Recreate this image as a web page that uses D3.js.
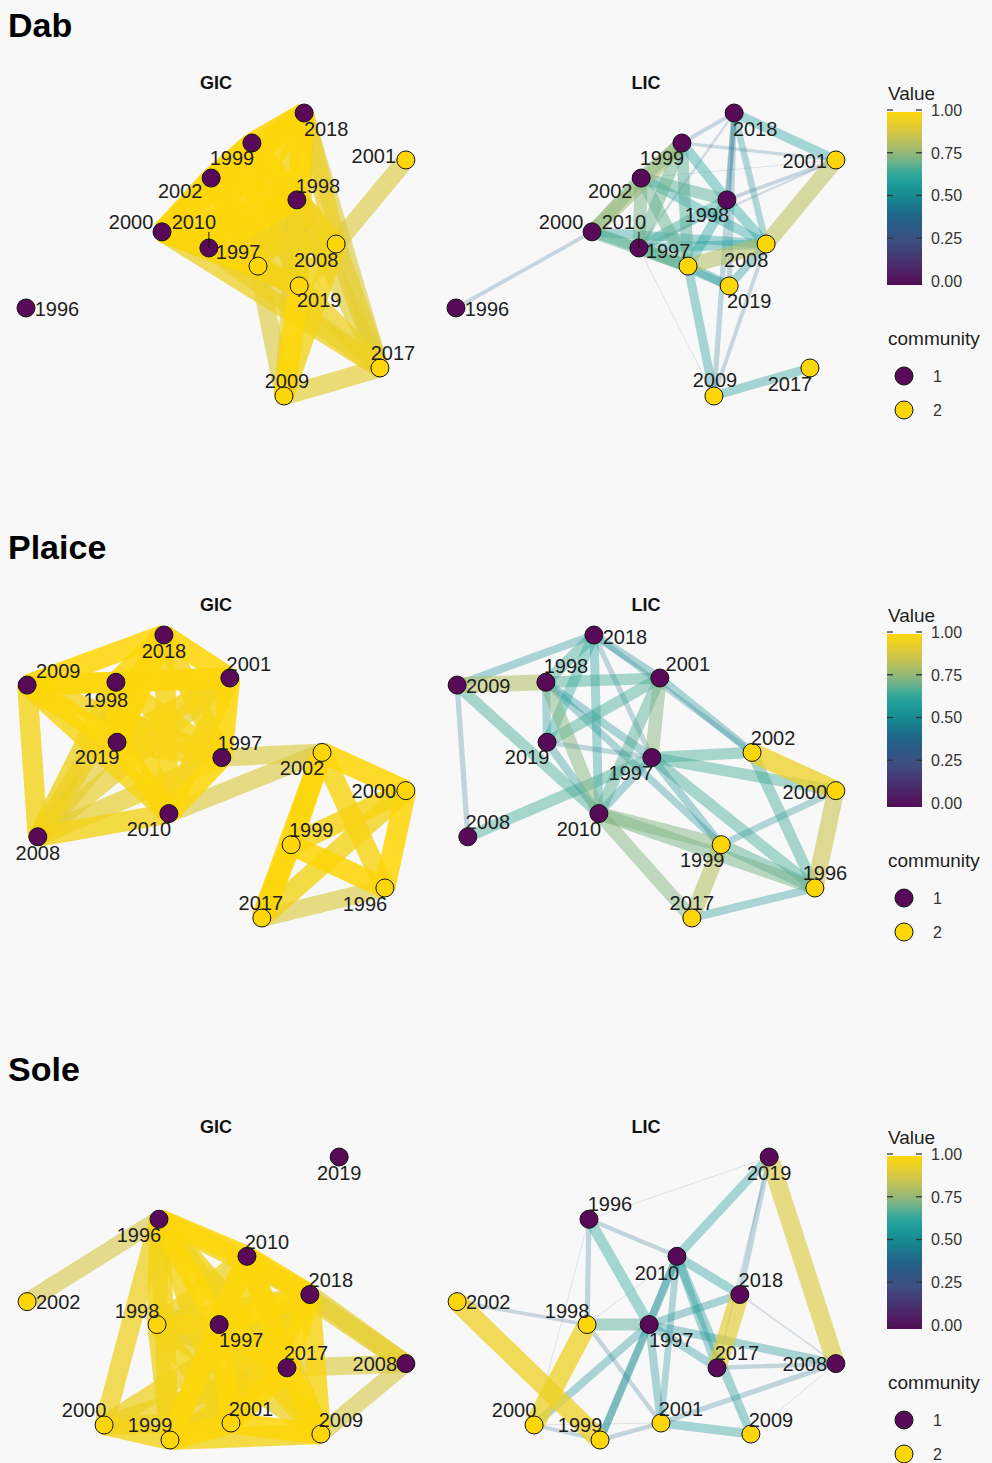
<!DOCTYPE html>
<html>
<head>
<meta charset="utf-8">
<script src="https://cdn.jsdelivr.net/npm/d3@7"></script>
<style>
  html, body { margin: 0; padding: 0; background: #f8f8f8; }
  svg { display: block; }
  text { font-family: "Liberation Sans", Arial, Helvetica, sans-serif; }
</style>
</head>
<body>
<svg id="chart" width="992" height="1463"></svg>
<script>
// ---- data ---------------------------------------------------------------
const speciesNames = ["Dab", "Plaice", "Sole"];
const panelNames = ["GIC", "LIC"];
const years = ["1996", "1997", "1998", "1999", "2000", "2001", "2002", "2008", "2009", "2010", "2017", "2018", "2019"];
const valueTicks = [0, 0.25, 0.5, 0.75, 1];
const communities = ["1", "2"];

// network layout coordinates (0-100) and community membership, in the order of `years`
const dabX = [0, 60.9, 71.1, 59.3, 35.7, 99.7, 48.6, 81.4, 67.7, 48.0, 92.9, 73.0, 71.7];
const dabY = [68.9, 54.1, 30.7, 10.6, 42.0, 16.6, 23.0, 46.3, 100, 47.7, 90.1, 0, 61.1];
const dabCommunity = ["1", "2", "1", "1", "1", "2", "1", "2", "2", "1", "2", "1", "2"];

const plaiceX = [94.2, 51.4, 23.6, 69.6, 99.7, 53.5, 77.7, 3.1, 0.3, 37.5, 61.9, 36.2, 23.9];
const plaiceY = [89.4, 43.3, 16.7, 74.1, 55.0, 15.2, 41.5, 71.3, 17.7, 63.1, 100, 0, 37.9];
const plaiceCommunity = ["2", "1", "1", "2", "2", "1", "2", "1", "1", "1", "2", "1", "1"];

const soleX = [34.9, 50.7, 34.4, 37.8, 20.5, 53.8, 0.3, 99.7, 77.4, 58.0, 68.5, 74.5, 82.2];
const soleY = [22.0, 59.2, 59.2, 100, 94.7, 94.0, 51.1, 73.0, 97.9, 35.1, 74.5, 48.6, 0];
const soleCommunity = ["1", "1", "2", "2", "2", "2", "2", "1", "2", "1", "1", "1", "1"];

// edges: [from, to, value]
const dabGIC = [
  ["2018","1999",1],["2018","2002",1],["2018","1998",1],["2018","2000",1],["2018","2010",1],
  ["1999","2002",1],["1999","1998",1],["1999","2000",1],["1999","2010",1],
  ["2002","1998",1],["2002","2000",1],["2002","2010",1],["1998","2000",1],["1998","2010",1],["2000","2010",1],
  ["1997","2018",0.97],["1997","1999",0.97],["1997","2002",0.98],["1997","2000",0.98],["1997","2010",1],["1997","1998",0.96],
  ["2019","2018",0.96],["2019","1999",0.95],["2019","2000",0.97],["2019","2010",0.97],["2019","1998",0.96],["2019","1997",0.97],["2019","2002",0.95],
  ["2008","2018",0.95],["2008","1998",0.97],["2008","2010",0.95],["2008","2000",0.96],["2008","2019",0.97],["2008","1999",0.94],
  ["2017","2018",0.9],["2017","2000",0.95],["2017","2010",0.93],["2017","1998",0.92],["2017","2019",0.95],["2017","2008",0.93],
  ["2009","1997",0.9],["2009","2019",1],["2009","2008",0.97],["2009","2017",0.92],["2009","1998",0.92],
  ["2001","2008",0.9]
];
const dabLIC = [
  ["2001","2008",0.83],["1997","2008",0.82],["2018","2001",0.6],["1999","1998",0.62],["1998","2008",0.62],
  ["2000","2010",0.6],["2000","1997",0.7],["2000","1999",0.78],["2000","2002",0.72],["1999","2002",0.72],
  ["1999","2010",0.7],["1999","1997",0.68],["2002","2010",0.72],["2002","1997",0.7],["2002","1998",0.68],
  ["1998","2010",0.65],["1998","1997",0.62],["2010","1997",0.7],["2010","2008",0.6],["2002","2008",0.6],
  ["2000","2008",0.58],["1997","2019",0.6],["1997","2009",0.58],["2019","2008",0.56],["2018","2009",0.45],
  ["2018","2019",0.45],["2018","2008",0.5],["2018","1998",0.45],["2018","1999",0.4],["2018","2010",0.35],
  ["2009","2017",0.58],["1996","2000",0.4],["2010","2009",0.3],["2008","2009",0.4],["1998","2001",0.4],
  ["2010","2001",0.35],["1999","2001",0.38],["2002","2001",0.3],["2010","2019",0.55]
];

const plaiceGIC = [
  ["2018","2009",1],["2018","1998",1],["2018","2001",1],["2018","2019",1],["2018","1997",0.98],["2018","2010",0.98],["2018","2008",0.95],
  ["2009","1998",1],["2009","2001",0.97],["2009","2019",1],["2009","1997",0.97],["2009","2010",0.98],["2009","2008",0.97],
  ["1998","2001",1],["1998","2019",1],["1998","1997",0.98],["1998","2010",0.98],["1998","2008",0.96],
  ["2001","2019",0.98],["2001","1997",1],["2001","2010",0.98],["2001","2008",0.93],
  ["2019","1997",0.98],["2019","2010",1],["2019","2008",0.92],["1997","2010",1],["1997","2008",0.93],["2010","2008",0.97],
  ["2002","2000",1],["2002","1999",1],["2002","1996",0.98],["2002","2017",1],["2000","1999",0.98],
  ["2000","1996",1],["2000","2017",0.97],["1999","1996",1],["1999","2017",1],["1996","2017",0.9],
  ["1997","2002",0.9],["2010","2002",0.9]
];
const plaiceLIC = [
  ["2009","1998",0.82],["2002","2000",0.95],["2000","1996",0.86],["1999","2017",0.82],["2010","2017",0.74],
  ["2010","1999",0.74],["2010","1996",0.72],["1997","2002",0.66],["1997","2000",0.66],["1997","1996",0.66],
  ["1997","1999",0.55],["2001","2002",0.55],["2018","2001",0.55],["2001","1997",0.74],["2001","2010",0.68],
  ["2001","2019",0.66],["2001","1998",0.66],["2008","1997",0.66],["2009","2010",0.66],["2009","2018",0.55],
  ["2009","2008",0.45],["1998","2010",0.74],["1998","2019",0.55],["1998","1997",0.55],["1998","2018",0.66],
  ["2018","2010",0.58],["2018","2019",0.64],["2019","2010",0.55],["2010","1997",0.55],["1999","2000",0.5],
  ["2017","1996",0.55],["2002","1996",0.66],["1999","1996",0.68],["1998","1999",0.52],["2018","2002",0.45],
  ["2019","1997",0.45],["2018","1997",0.45]
];

const soleGIC = [
  ["1996","2010",1],["1996","2018",0.98],["1996","1998",0.97],["1996","1997",1],["1996","2017",0.97],["1996","2000",0.95],["1996","1999",0.97],["1996","2001",0.97],["1996","2009",0.95],
  ["2010","2018",1],["2010","1998",0.95],["2010","1997",1],["2010","2017",1],["2010","1999",0.97],["2010","2001",0.98],["2010","2009",0.97],
  ["2018","1998",0.95],["2018","1997",1],["2018","2017",1],["2018","1999",0.95],["2018","2001",0.98],["2018","2009",0.98],["2018","2000",0.95],
  ["1998","1997",0.98],["1998","2017",0.95],["1998","1999",0.95],["1998","2001",0.97],["1998","2009",0.95],
  ["1997","2017",1],["1997","1999",1],["1997","2001",1],["1997","2009",0.98],
  ["2017","2000",0.95],["2017","1999",0.97],["2017","2001",1],["2017","2009",1],
  ["2000","1999",0.97],["2000","2001",0.95],["1999","2001",1],["1999","2009",0.97],["2001","2009",1],
  ["2008","2018",0.93],["2008","2017",0.9],["2008","2009",0.88],["2008","2010",0.93],
  ["1996","2002",0.88]
];
const soleLIC = [
  ["2019","2008",0.9],["2018","2017",0.92],["2002","1999",0.95],["1998","2000",0.95],["1998","1997",0.68],
  ["1996","1997",0.64],["2010","2019",0.58],["2010","2018",0.58],["2010","2009",0.58],["2010","2017",0.56],
  ["1997","2008",0.56],["1997","2018",0.54],["1997","2017",0.55],["1997","2001",0.55],["1997","1999",0.53],
  ["1997","2000",0.55],["2010","1999",0.52],["2010","2001",0.5],["2001","2009",0.58],["2001","2008",0.45],
  ["2017","2008",0.42],["1996","2010",0.42],["1996","1998",0.45],["2002","1998",0.4],["2000","1999",0.4],
  ["1999","2001",0.42],["1996","2019",0.3],["2019","2018",0.45],["2018","2008",0.33],["2009","2008",0.3],
  ["1998","2001",0.42],["2010","1997",0.55],["2017","2009",0.3],["1998","2010",0.3],["2000","2001",0.3],
  ["1996","2000",0.28],["2019","2017",0.33]
];

// ---- assemble ------------------------------------------------------------
function buildNodes(xs, ys, comm) {
  return years.map((yr, i) => ({ year: yr, x: xs[i], y: ys[i], community: comm[i] }));
}
const species = [
  { name: speciesNames[0], nodes: buildNodes(dabX, dabY, dabCommunity), edges: [dabGIC, dabLIC] },
  { name: speciesNames[1], nodes: buildNodes(plaiceX, plaiceY, plaiceCommunity), edges: [plaiceGIC, plaiceLIC] },
  { name: speciesNames[2], nodes: buildNodes(soleX, soleY, soleCommunity), edges: [soleGIC, soleLIC] }
];

// repelled label offsets (px) for each species / panel
const labelNudge = [
  [
    {"1996":[31,1],"1997":[-20,-14],"1998":[21,-14],"1999":[-20,15],"2000":[-31,-10],"2001":[-32,-4],"2002":[-31,13],"2008":[-20,16],"2009":[3,-15],"2010":[-15,-26],"2017":[13,-15],"2018":[22,16],"2019":[20,14]},
    {"1996":[31,1],"1997":[-20,-15],"1998":[-20,15],"1999":[-20,15],"2000":[-31,-10],"2001":[-31,1],"2002":[-31,13],"2008":[-20,16],"2009":[1,-16],"2010":[-15,-26],"2017":[-20,16],"2018":[21,16],"2019":[20,15]}
  ],
  [
    {"1996":[-20,16],"1997":[18,-15],"1998":[-10,18],"1999":[20,-15],"2000":[-32,0],"2001":[19,-14],"2002":[-20,15],"2008":[0,16],"2009":[31,-14],"2010":[-20,15],"2017":[-1,-15],"2018":[0,16],"2019":[-20,15]},
    {"1996":[10,-15],"1997":[-21,15],"1998":[20,-16],"1999":[-19,15],"2000":[-31,1],"2001":[28,-14],"2002":[21,-15],"2008":[20,-15],"2009":[31,1],"2010":[-20,15],"2017":[0,-15],"2018":[31,2],"2019":[-20,15]}
  ],
  [
    {"1996":[-20,16],"1997":[22,15],"1998":[-20,-14],"1999":[-20,-15],"2000":[-20,-15],"2001":[20,-14],"2002":[31,0],"2008":[-31,0],"2009":[20,-14],"2010":[20,-15],"2017":[19,-15],"2018":[21,-15],"2019":[0,16]},
    {"1996":[21,-15],"1997":[22,15],"1998":[-20,-14],"1999":[-20,-15],"2000":[-20,-15],"2001":[20,-14],"2002":[31,0],"2008":[-31,0],"2009":[20,-14],"2010":[-20,16],"2017":[20,-15],"2018":[21,-15],"2019":[0,16]}
  ]
];

// ---- scales ----------------------------------------------------------------
const colorScale = d3.scaleLinear()
  .domain([0, 0.125, 0.25, 0.375, 0.5, 0.625, 0.75, 0.875, 1])
  .range(["#560b57", "#4a2e6f", "#3d4f80", "#245f88", "#168690", "#22a6a0", "#8cb67e", "#d4c648", "#fdd60a"])
  .interpolate(d3.interpolateRgb)
  .clamp(true);
const widthScale = d3.scaleLinear().domain([0.3, 1]).range([1, 21]).clamp(true);
const alphaScale = d3.scaleLinear().domain([0.25, 0.6, 0.9, 1]).range([0.1, 0.4, 0.62, 0.88]).clamp(true);
const communityColor = d3.scaleOrdinal().domain(communities).range(["#580a58", "#fdd60a"]);

const rowStep = 522;
const svg = d3.select("#chart");

species.forEach((sp, si) => {
  const oy = si * rowStep;
  const g = svg.append("g").attr("class", "row-" + sp.name);

  g.append("text")
    .attr("x", 8).attr("y", 37 + oy)
    .attr("font-size", 34).attr("font-weight", "bold").attr("fill", "#000")
    .text(sp.name);

  const byYear = new Map(sp.nodes.map(n => [n.year, n]));

  panelNames.forEach((pn, pi) => {
    const ox = pi * 430;
    const x = d3.scaleLinear().domain([0, 100]).range([26 + ox, 407 + ox]);
    const y = d3.scaleLinear().domain([0, 100]).range([113 + oy, 396 + oy]);
    const pg = g.append("g").attr("class", "panel-" + pn);

    pg.append("text")
      .attr("x", 216 + ox).attr("y", 89 + oy)
      .attr("text-anchor", "middle")
      .attr("font-size", 18).attr("font-weight", "bold").attr("fill", "#111")
      .text(pn);

    const edges = sp.edges[pi].map(([a, b, v]) => ({ a: byYear.get(a), b: byYear.get(b), v }))
      .sort((p, q) => p.v - q.v);

    pg.append("g").selectAll("line.edge").data(edges).join("line")
      .attr("class", "edge")
      .attr("x1", d => x(d.a.x)).attr("y1", d => y(d.a.y))
      .attr("x2", d => x(d.b.x)).attr("y2", d => y(d.b.y))
      .attr("stroke", d => colorScale(d.v))
      .attr("stroke-opacity", d => alphaScale(d.v))
      .attr("stroke-width", d => widthScale(d.v))
      .attr("stroke-linecap", "butt");

    pg.append("g").selectAll("circle.node").data(sp.nodes).join("circle")
      .attr("class", "node")
      .attr("cx", d => x(d.x)).attr("cy", d => y(d.y))
      .attr("r", 9)
      .attr("fill", d => communityColor(d.community))
      .attr("stroke", "#111").attr("stroke-width", 1);

    const nudge = labelNudge[si][pi];
    const lg = pg.append("g");
    sp.nodes.forEach(n => {
      const [dx, dy] = nudge[n.year];
      const cx = x(n.x), cy = y(n.y);
      const lx = cx + dx, ly = cy + dy;
      // connector from label box to point when the label sits far away
      const hw = 23, hh = 8;
      const px = Math.max(lx - hw, Math.min(cx, lx + hw));
      const py = Math.max(ly - hh, Math.min(cy, ly + hh));
      const gap = Math.hypot(px - cx, py - cy);
      if (gap > 14) {
        lg.append("line")
          .attr("x1", px).attr("y1", py + 2).attr("x2", cx).attr("y2", cy)
          .attr("stroke", "#111").attr("stroke-width", 1);
      }
      lg.append("text")
        .attr("x", lx).attr("y", ly)
        .attr("dy", "0.36em")
        .attr("text-anchor", "middle")
        .attr("font-size", 20).attr("fill", "#1e1e1e")
        .text(n.year);
    });
  });

  // ---- legends ----
  const leg = g.append("g").attr("class", "legend");
  leg.append("text").attr("x", 888).attr("y", 100 + oy)
    .attr("font-size", 19).attr("fill", "#1e1e1e").text("Value");

  const gradId = "grad-" + si;
  const grad = svg.append("defs").append("linearGradient")
    .attr("id", gradId).attr("x1", 0).attr("y1", 1).attr("x2", 0).attr("y2", 0);
  d3.range(0, 1.0001, 0.05).forEach(t => {
    grad.append("stop").attr("offset", t).attr("stop-color", colorScale(t));
  });
  const ty = d3.scaleLinear().domain([0, 1]).range([281 + oy, 110 + oy]);
  leg.append("rect")
    .attr("x", 887).attr("y", ty(1) + 2).attr("width", 35).attr("height", ty(0) - ty(1) + 2)
    .attr("fill", `url(#${gradId})`);
  valueTicks.forEach(v => {
    leg.append("line").attr("x1", 887).attr("x2", 893).attr("y1", ty(v)).attr("y2", ty(v))
      .attr("stroke", "#333").attr("stroke-width", 1.3);
    leg.append("line").attr("x1", 916).attr("x2", 922).attr("y1", ty(v)).attr("y2", ty(v))
      .attr("stroke", "#333").attr("stroke-width", 1.3);
    leg.append("text").attr("x", 931).attr("y", ty(v)).attr("dy", "0.36em")
      .attr("font-size", 16).attr("fill", "#333").text(d3.format(".2f")(v));
  });

  leg.append("text").attr("x", 888).attr("y", 345 + oy)
    .attr("font-size", 19).attr("fill", "#1e1e1e").text("community");
  communities.forEach((c, ci) => {
    const cy = 376 + oy + ci * 34;
    leg.append("circle").attr("cx", 904).attr("cy", cy).attr("r", 9)
      .attr("fill", communityColor(c)).attr("stroke", "#111").attr("stroke-width", 1);
    leg.append("text").attr("x", 933).attr("y", cy).attr("dy", "0.36em")
      .attr("font-size", 16).attr("fill", "#333").text(c);
  });
});
</script>
</body>
</html>
